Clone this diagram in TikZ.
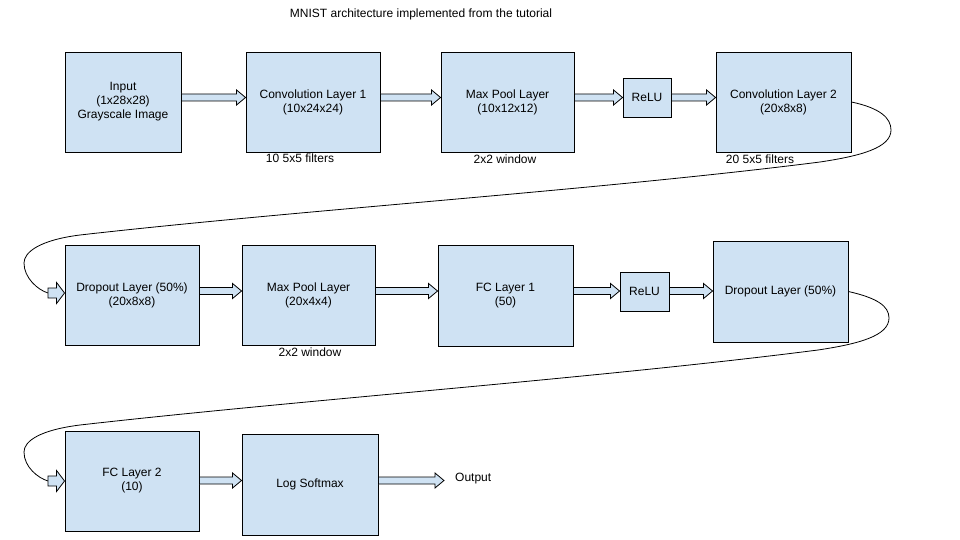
\documentclass[tikz,border=0pt]{standalone}
\usepackage{fontspec}
\setmainfont{Liberation Sans}
\usetikzlibrary{calc}
\definecolor{boxblue}{HTML}{CFE2F3}

% block arrow: #1 start, #2 tip, #3 half shaft, #4 half head, #5 head length
\newcommand{\fatarrow}[5]{%
  \path #1 coordinate (fa-s) #2 coordinate (fa-t);
  \filldraw[fat]
    ($(fa-s)+(0,#3)$) -- ($(fa-t)+(-#5,#3)$) -- ($(fa-t)+(-#5,#4)$)
    -- (fa-t)
    -- ($(fa-t)+(-#5,-#4)$) -- ($(fa-t)+(-#5,-#3)$) -- ($(fa-s)+(0,-#3)$)
    -- cycle;}

\begin{document}
\begin{tikzpicture}[x=1pt,y=-1pt,
  font=\fontsize{12}{14}\selectfont,
  box/.style={draw,fill=boxblue,line width=0.9pt,align=center,inner sep=2pt},
  fat/.style={draw,fill=boxblue,line width=0.8pt,line join=miter},
  loopline/.style={draw,line width=0.8pt},
  lbl/.style={inner sep=0pt}]
  \useasboundingbox (0,0) rectangle (960,540);

  % title
  \node[lbl] (title) at (421,14) {MNIST architecture implemented from the tutorial};

  % rows of the arrows
  \coordinate (r1) at (0,97.5);
  \coordinate (r2) at (0,291);
  \coordinate (r3) at (0,480.5);

  % first row
  \node[box,minimum width=116,minimum height=100] (in) at (123,102)
    {Input\\(1x28x28)\\Grayscale Image};
  \node[box,minimum width=134,minimum height=100] (conv1) at (313,102)
    {Convolution Layer 1\\(10x24x24)};
  \node[box,minimum width=133,minimum height=100] (pool1) at (507.5,102)
    {Max Pool Layer\\(10x12x12)};
  \node[box,minimum width=48,minimum height=39] (relu1) at (647,97.5) {ReLU};
  \node[box,minimum width=135,minimum height=100] (conv2) at (783.5,102)
    {Convolution Layer 2\\(20x8x8)};

  \node[lbl] (filt1) at (300,158) {10 5x5 filters};
  \node[lbl] (win1) at (505,159) {2x2 window};
  \node[lbl] (filt2) at (760,159) {20 5x5 filters};

  \fatarrow{(in.east |- r1)}{(conv1.west |- r1)}{3.5}{7.5}{9}
  \fatarrow{(conv1.east |- r1)}{(pool1.west |- r1)}{3.5}{7.5}{9}
  \fatarrow{(pool1.east |- r1)}{(relu1.west |- r1)}{3.5}{7.5}{9}
  \fatarrow{(relu1.east |- r1)}{(conv2.west |- r1)}{3.5}{7.5}{9}

  % second row
  \node[box,minimum width=134,minimum height=100] (drop1) at (132,295)
    {Dropout Layer (50\%)\\(20x8x8)};
  \node[box,minimum width=133,minimum height=100] (pool2) at (308.5,295)
    {Max Pool Layer\\(20x4x4)};
  \node[box,minimum width=135,minimum height=101] (fc1) at (505.5,295.5)
    {FC Layer 1\\(50)};
  \node[box,minimum width=49,minimum height=39] (relu2) at (644.5,291.5) {ReLU};
  \node[box,minimum width=135,minimum height=101] (drop2) at (780.5,291.5)
    {Dropout Layer (50\%)};

  \node[lbl] (win2) at (310,352) {2x2 window};

  \fatarrow{(drop1.east |- r2)}{(pool2.west |- r2)}{3.5}{7.5}{9}
  \fatarrow{(pool2.east |- r2)}{(fc1.west |- r2)}{3.5}{7.5}{9}
  \fatarrow{(fc1.east |- r2)}{(relu2.west |- r2)}{3.5}{7.5}{9}
  \fatarrow{(relu2.east |- r2)}{(drop2.west |- r2)}{3.5}{7.5}{9}

  % third row
  \node[box,minimum width=134,minimum height=100] (fc2) at (132,481)
    {FC Layer 2\\(10)};
  \node[box,minimum width=136,minimum height=101] (soft) at (310,484.5)
    {Log Softmax};
  \node[lbl,anchor=west] (out) at (455,479) {Output};
  \coordinate (outtip) at (444,480.5);

  \fatarrow{(fc2.east |- r3)}{(soft.west |- r3)}{3.5}{7.5}{9}
  \fatarrow{(soft.east |- r3)}{(outtip)}{3.5}{7.5}{9}

  % wrap-around connectors
  \coordinate (k1) at (48,293);
  \coordinate (k2) at (48,481);
  \draw[loopline] (conv2.east)
    .. controls (880,108) and (891,118) .. (891,130)
    .. controls (891,148) and (860,156) .. (820,162)
    .. controls (600,190) and (300,210) .. (80,235)
    .. controls (40,240) and (24,252) .. (24,263)
    .. controls (24,278) and (38,290) .. (k1);
  \draw[loopline] (drop2.east)
    .. controls (877,298) and (889,306) .. (889,318)
    .. controls (889,336) and (858,344) .. (818,350)
    .. controls (600,378) and (300,400) .. (80,425)
    .. controls (40,430) and (24,441) .. (24,452)
    .. controls (24,467) and (38,478) .. (k2);
  \fatarrow{(k1)}{(drop1.west |- k1)}{5}{10.5}{8}
  \fatarrow{(k2)}{(fc2.west |- k2)}{5}{10.5}{8}
\end{tikzpicture}
\end{document}
